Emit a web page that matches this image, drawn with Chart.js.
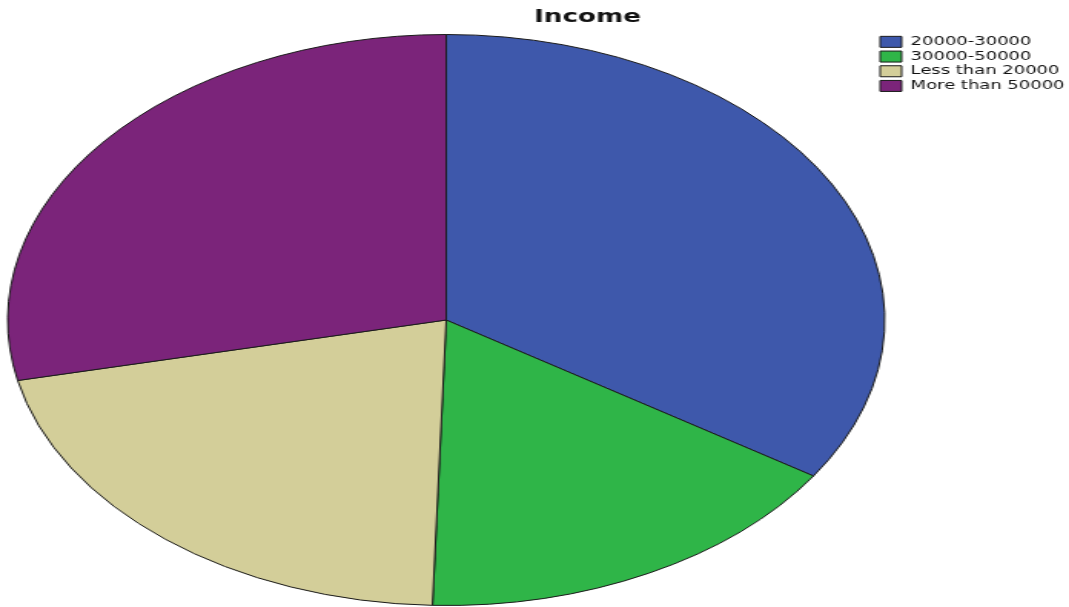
<!DOCTYPE html>
<html>
<head>
<meta charset="utf-8">
<script src="https://cdn.jsdelivr.net/npm/chart.js@4/dist/chart.umd.min.js"></script>
<style>
  html, body { margin: 0; padding: 0; background: #fff; overflow: hidden; }
  /* the source picture is stretched sideways, so the whole chart is stretched too */
  #wrap {
    position: absolute; left: 0; top: 0;
    width: 703px; height: 607px;
    transform: scaleX(1.536); transform-origin: 0 0;
  }
</style>
</head>
<body>
<div id="wrap"><canvas id="chart-income"></canvas></div>
<script>
// data (percent of respondents)
const incomeLabels = ['20000-30000', '30000-50000', 'Less than 20000', 'More than 50000'];
const incomeValues = [34.2, 16.3, 21.1, 28.4];
const incomeColors = ['rgb(62,88,171)', 'rgb(47,181,72)', 'rgb(211,206,153)', 'rgb(123,36,122)'];
const chartTitle = 'Income';

// title sits right of the centre in the original, so draw it by hand
const titlePlugin = {
    id: 'offTitle',
    afterDraw(chart) {
        const c = chart.ctx;
        c.save();
        c.font = 'bold 17px "DejaVu Sans", Verdana, sans-serif';
        c.fillStyle = '#111';
        c.textAlign = 'center';
        c.textBaseline = 'middle';
        c.fillText(chartTitle, 382.5, 18);
        c.restore();
    }
};

var ctx = document.getElementById('chart-income');
const incomeChart = new Chart(ctx, {
    type: 'pie',
    data: {
        labels: incomeLabels,
        datasets: [
            {
                label: chartTitle,
                data: incomeValues,
                backgroundColor: incomeColors,
                borderColor: '#1a1a1a',
                borderWidth: 1,
                clip: false
            }
        ]
    },
    options: {
        maintainAspectRatio: false,
        responsive: true,
        animation: false,
        radius: 285.5,
        layout: {
            padding: { top: 33, left: 11 }
        },
        plugins: {
            legend: {
                position: 'right',
                align: 'start',
                labels: {
                    boxWidth: 14,
                    boxHeight: 11,
                    padding: 3,
                    color: '#111',
                    font: { family: '"DejaVu Sans", Verdana, sans-serif', size: 11.7 }
                }
            },
            title: { display: false },
            tooltip: { enabled: false }
        }
    },
    plugins: [titlePlugin]
});
</script>
</body>
</html>
